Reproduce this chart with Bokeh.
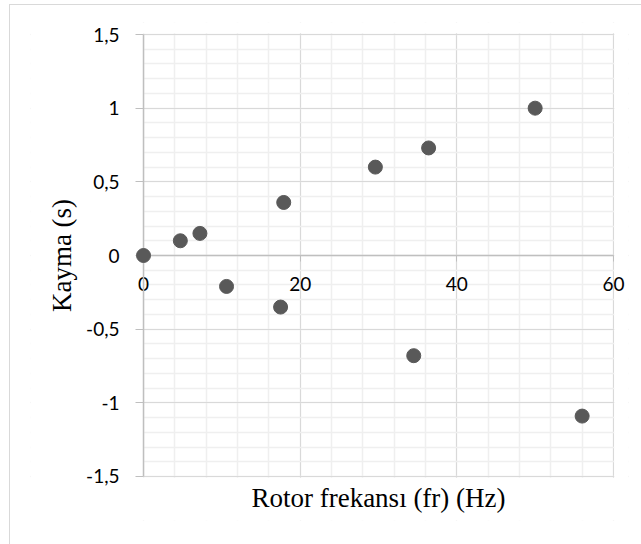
import math
from bokeh.plotting import figure
from bokeh.models import (FixedTicker, CustomJSTickFormatter, ColumnDataSource,
                          BoxAnnotation, Label)
from bokeh.embed import file_html
from bokeh.resources import INLINE

# data
freq = [0, 4.7, 7.2, 10.6, 17.5, 17.9, 29.6, 34.5, 36.4, 50.0, 56.0]
slip = [0, 0.10, 0.15, -0.21, -0.35, 0.36, 0.60, -0.68, 0.73, 1.00, -1.09]

x_ticks = [0, 20, 40, 60]
x_minor = [0, 4, 8, 12, 16, 20, 24, 28, 32, 36, 40, 44, 48, 52, 56, 60]
y_ticks = [-1.5, -1, -0.5, 0, 0.5, 1, 1.5]
y_minor = [-1.5, -1.4, -1.3, -1.2, -1.1, -1.0, -0.9, -0.8, -0.7, -0.6, -0.5, -0.4,
           -0.3, -0.2, -0.1, 0, 0.1, 0.2, 0.3, 0.4, 0.5, 0.6, 0.7, 0.8, 0.9, 1.0,
           1.1, 1.2, 1.3, 1.4, 1.5]
x_bounds = (0, 60)
y_bounds = (-1.5, 1.5)

x_title = "Rotor frekansı (fr) (Hz)"
y_title = "Kayma (s)"

TICK_FONT = "Lato"
TITLE_FONT = "Liberation Serif"
GRID = "#d9d9d9"
MINOR = "#efefef"
AXIS = "#bfbfbf"

# the frame is larger than the data box so that edge labels are not clipped;
# the area outside the data box is blanked with white boxes
p = figure(width=631, height=539, x_range=(-14.43, 61.92), y_range=(-1.7987, 1.5815),
           output_backend="svg", toolbar_location=None,
           min_border_left=20, min_border_right=13, min_border_top=17,
           min_border_bottom=24)
p.styles = {"margin-left": "10px", "margin-top": "5px",
            "outline": "1px solid #d9d9d9"}
p.outline_line_color = None
p.background_fill_color = "white"
p.border_fill_color = "white"

comma_fmt = CustomJSTickFormatter(code="return tick.toString().replace('.', ',')")

# crossing x axis at y = 0
xt = FixedTicker(ticks=x_ticks, minor_ticks=x_minor)
xa = p.xaxis[0]
xa.ticker = xt
xa.fixed_location = 0
xa.bounds = x_bounds
xa.formatter = comma_fmt
xa.axis_line_color = AXIS
xa.axis_line_width = 1.5
xa.major_tick_line_color = AXIS
xa.major_tick_out = 6
xa.major_tick_in = 0
xa.minor_tick_line_color = None
xa.major_label_standoff = 15
xa.major_label_text_font = TICK_FONT
xa.major_label_text_font_size = "19px"
xa.major_label_text_color = "black"

yt = FixedTicker(ticks=y_ticks, minor_ticks=y_minor)
ya = p.yaxis[0]
ya.ticker = yt
ya.fixed_location = 0
ya.bounds = y_bounds
ya.formatter = comma_fmt
ya.axis_line_color = AXIS
ya.axis_line_width = 1.5
ya.major_tick_line_color = AXIS
ya.major_tick_out = 8
ya.major_tick_in = 0
ya.minor_tick_line_color = None
ya.major_label_standoff = 16
ya.major_label_text_font = TICK_FONT
ya.major_label_text_font_size = "19px"
ya.major_label_text_color = "black"

p.xgrid.ticker = xt
p.ygrid.ticker = yt
for g in (p.xgrid[0], p.ygrid[0]):
    g.grid_line_color = GRID
    g.minor_grid_line_color = MINOR
    g.minor_grid_line_width = 1.5

# blank out grid lines outside the data box
for kw in (dict(right=x_bounds[0]), dict(left=x_bounds[1] + 0.1),
           dict(bottom=y_bounds[1] + 0.008), dict(top=y_bounds[0] - 0.008)):
    p.add_layout(BoxAnnotation(fill_color="white", fill_alpha=1, line_color=None,
                               level="underlay", **kw))

# axis titles
p.add_layout(Label(x=(x_bounds[0] + x_bounds[1]) / 2, y=y_bounds[0], y_offset=-22,
                   text=x_title, text_align="center", text_baseline="middle",
                   text_font=TITLE_FONT, text_font_size="27px", text_color="black"))
p.add_layout(Label(x=x_bounds[0], y=(y_bounds[0] + y_bounds[1]) / 2, x_offset=-82,
                   angle=math.pi / 2, text=y_title, text_align="center",
                   text_baseline="middle", text_font=TITLE_FONT,
                   text_font_size="27px", text_color="black"))

src = ColumnDataSource(dict(x=freq, y=slip))
p.scatter("x", "y", source=src, size=14, fill_color="#595959", line_color="#595959",
          level="overlay")

open("out.html", "w").write(file_html(p, INLINE))
